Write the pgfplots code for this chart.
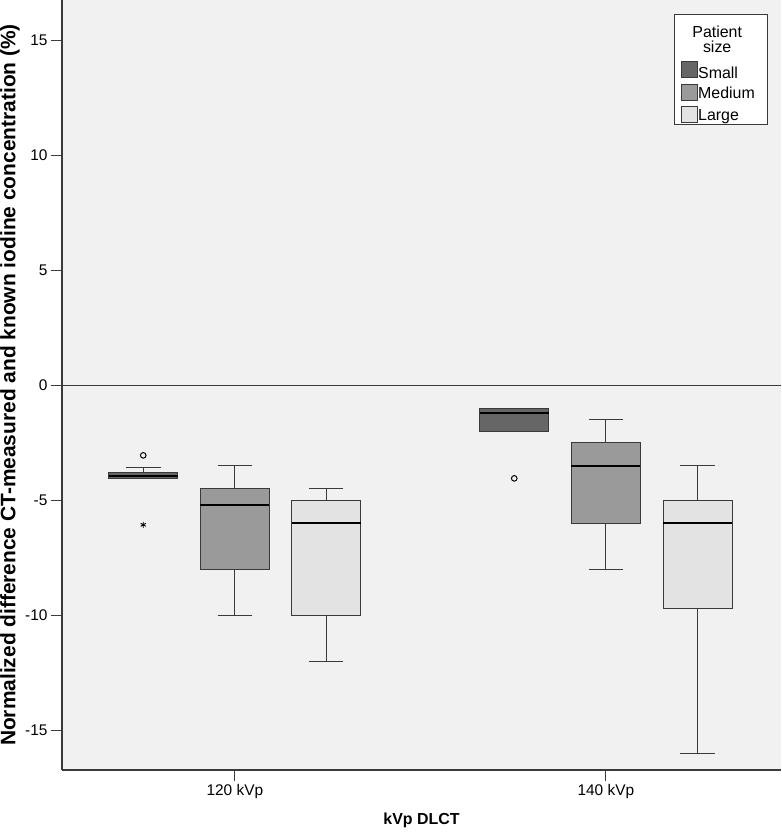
\documentclass[border=0pt]{standalone}
\usepackage{fontspec}
\setmainfont{Liberation Sans}
\usepackage{pgfplots}
\pgfplotsset{compat=1.18}
\usepgfplotslibrary{statistics}
\definecolor{bg}{HTML}{F1F1F1}
\definecolor{smallc}{HTML}{666666}
\definecolor{medc}{HTML}{9A9A9A}
\definecolor{largec}{HTML}{E3E3E3}
\definecolor{edge}{HTML}{3A3A3A}
% legend row heights
\newcommand\lh[2]{\raisebox{0pt}[#1]{#2}}
\newcommand\ttl[1]{\hspace*{-24bp}\makebox[86bp][c]{#1}}
\begin{document}
\begin{tikzpicture}
\begin{axis}[
  scale only axis, width=719bp, height=770bp,
  xmin=-0.466, xmax=1.472, ymin=-16.72, ymax=16.76,
  axis x line*=bottom, axis y line*=left,
  axis line style={-, edge, line width=1.3bp},
  axis background/.style={fill=bg},
  xtick={0,1}, xticklabels={120 kVp,140 kVp},
  ytick={-15,-10,...,15},
  tick align=outside, major tick length=11bp,
  tick style={edge, line width=0.8bp},
  ticklabel style={font=\fontsize{15.5}{18}\selectfont},
  /pgf/number format/assume math mode=true,
  xlabel={kVp DLCT},
  ylabel={Normalized difference CT-measured and known iodine concentration (\%)},
  xlabel style={at={(axis description cs:0.5,-0.0649)}, anchor=center,
    font=\bfseries\fontsize{16}{19}\selectfont},
  ylabel style={at={(axis description cs:-0.0723,0.5)}, anchor=center,
    font=\bfseries\fontsize{21}{24}\selectfont},
  boxplot/draw direction=y,
  boxplot/box extend=0.186,
  boxplot/whisker extend=0.093,
  boxplot/every box/.style={draw=edge, line width=1bp},
  boxplot/every whisker/.style={draw=edge, line width=1bp},
  boxplot/every median/.style={draw=black, line width=2bp},
  legend style={at={(axis description cs:0.9805,0.982)}, anchor=north east,
    draw=edge, fill=white, font=\fontsize{16}{17}\selectfont,
    inner xsep=6bp, inner ysep=2bp, row sep=0bp, nodes={inner sep=0.6bp}},
  legend cell align=left,
]
% zero reference line
\addplot[edge, line width=0.8bp, forget plot] coordinates {(-0.466,0) (1.472,0)};

% 120 kVp
\addplot[boxplot prepared={draw position=-0.247, lower whisker=-4.05, lower quartile=-4.05,
  median=-3.95, upper quartile=-3.8, upper whisker=-3.55}, fill=smallc, draw=edge, forget plot] coordinates {};
\addplot[boxplot prepared={draw position=0, lower whisker=-10, lower quartile=-8,
  median=-5.2, upper quartile=-4.5, upper whisker=-3.5}, fill=medc, draw=edge, forget plot] coordinates {};
\addplot[boxplot prepared={draw position=0.246, lower whisker=-12, lower quartile=-10,
  median=-6, upper quartile=-5, upper whisker=-4.5}, fill=largec, draw=edge, forget plot] coordinates {};

% 140 kVp
\addplot[boxplot prepared={draw position=0.753, lower whisker=-2, lower quartile=-2,
  median=-1.2, upper quartile=-1, upper whisker=-1}, fill=smallc, draw=edge, forget plot] coordinates {};
\addplot[boxplot prepared={draw position=1, lower whisker=-8, lower quartile=-6,
  median=-3.5, upper quartile=-2.5, upper whisker=-1.5}, fill=medc, draw=edge, forget plot] coordinates {};
\addplot[boxplot prepared={draw position=1.247, lower whisker=-16, lower quartile=-9.7,
  median=-6, upper quartile=-5, upper whisker=-3.5}, fill=largec, draw=edge, forget plot] coordinates {};

% outliers
\addplot[only marks, mark=o, mark size=2.8bp, draw=black, line width=1bp, forget plot]
  coordinates {(-0.247,-3.04) (0.753,-4.04)};
\addplot[only marks, mark=asterisk, mark size=3bp, draw=black, line width=0.9bp, forget plot]
  coordinates {(-0.247,-6.06)};

% legend
\addlegendimage{empty legend}
\addlegendentry{\lh{20.5bp}{\ttl{Patient}}}
\addlegendimage{empty legend}
\addlegendentry{\lh{12.2bp}{\ttl{size}}}
\addlegendimage{legend image code/.code={\draw[fill=smallc,draw=edge,line width=1bp] (0bp,-10bp) rectangle (16bp,6bp);}}
\addlegendentry{\lh{24bp}{Small}}
\addlegendimage{legend image code/.code={\draw[fill=medc,draw=edge,line width=1bp] (0bp,-10bp) rectangle (16bp,6bp);}}
\addlegendentry{\lh{17.5bp}{Medium}}
\addlegendimage{legend image code/.code={\draw[fill=largec,draw=edge,line width=1bp] (0bp,-10bp) rectangle (16bp,6bp);}}
\addlegendentry{\lh{18.5bp}{Large}}
\end{axis}
\pgfresetboundingbox
\path (current axis.south west) ++(-62bp,-62bp) rectangle ++(782bp,832bp);
\end{tikzpicture}
\end{document}
